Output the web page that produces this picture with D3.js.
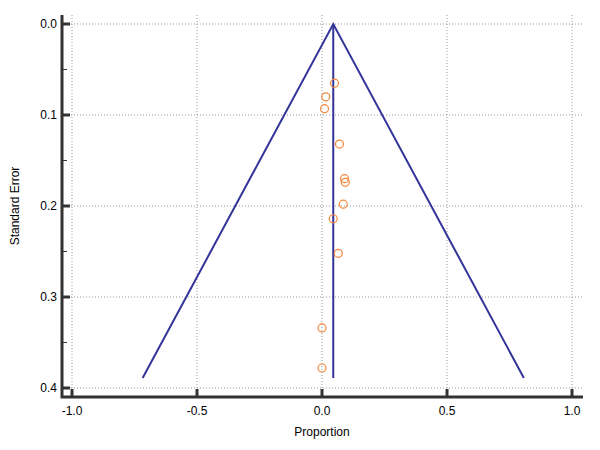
<!DOCTYPE html>
<html><head><meta charset="utf-8">
<script src="https://cdn.jsdelivr.net/npm/d3@7"></script>
<style>body{margin:0;background:#fff}text{font-family:Arial,"Liberation Sans",sans-serif}</style>
</head><body><div id="chart"></div>
<script>
const propValues = [0.05, 0.015, 0.01, 0.07, 0.09, 0.093, 0.085, 0.045, 0.065, 0.0, 0.0]
const seValues = [0.065, 0.08, 0.093, 0.132, 0.17, 0.174, 0.198, 0.214, 0.252, 0.334, 0.378]
const pooled = 0.045
const funnelSE = [0, 0.389]
const xTicks = [-1.0, -0.5, 0.0, 0.5, 1.0]
const yTicks = [0.0, 0.1, 0.2, 0.3, 0.4]

const width = 600, height = 450
const svg = d3.select("#chart").append("svg").attr("width", width).attr("height", height)
const x = d3.scaleLinear().domain([-1, 1]).range([72, 572])
const y = d3.scaleLinear().domain([0, 0.4]).range([24, 388])
const pLeft = 62, pBottom = 397, pRight = 583, pTop = 15

// grid
svg.append("g").selectAll("line").data(xTicks).enter().append("line")
    .attr("x1", d => x(d)).attr("x2", d => x(d)).attr("y1", pTop).attr("y2", pBottom)
    .attr("stroke", "#999").attr("stroke-dasharray", "1 2")
svg.append("g").selectAll("line").data(yTicks).enter().append("line")
    .attr("x1", pLeft).attr("x2", pRight).attr("y1", d => y(d)).attr("y2", d => y(d))
    .attr("stroke", "#999").attr("stroke-dasharray", "1 2")

// axes
svg.append("path").attr("d", `M${pLeft},${pTop} V${pBottom} H${pRight}`)
    .attr("fill", "none").attr("stroke", "#333").attr("stroke-width", 3)
svg.selectAll(".xt").data(xTicks).enter().append("line")
    .attr("x1", d => x(d)).attr("x2", d => x(d)).attr("y1", pBottom).attr("y2", pBottom - 8)
    .attr("stroke", "#333").attr("stroke-width", 3)
svg.selectAll(".yt").data(yTicks).enter().append("line")
    .attr("x1", pLeft).attr("x2", pLeft + 8).attr("y1", d => y(d)).attr("y2", d => y(d))
    .attr("stroke", "#333").attr("stroke-width", 3)
svg.selectAll(".ym").data([0.05, 0.15, 0.25, 0.35]).enter().append("line")
    .attr("x1", pLeft).attr("x2", pLeft + 5).attr("y1", d => y(d)).attr("y2", d => y(d))
    .attr("stroke", "#333").attr("stroke-width", 1)
svg.selectAll(".xl").data(xTicks).enter().append("text")
    .attr("x", d => x(d)).attr("y", pBottom + 18).attr("text-anchor", "middle")
    .attr("font-size", 12).text(d => d.toFixed(1))
svg.selectAll(".yl").data(yTicks).enter().append("text")
    .attr("x", pLeft - 5).attr("y", d => y(d) + 4).attr("text-anchor", "end")
    .attr("font-size", 12).text(d => d.toFixed(1))
svg.append("text").attr("x", x(0)).attr("y", 436).attr("text-anchor", "middle")
    .attr("font-size", 12).text("Proportion")
svg.append("text").attr("transform", `translate(19,${(pTop + pBottom) / 2}) rotate(-90)`)
    .attr("text-anchor", "middle").attr("font-size", 12).text("Standard Error")

// funnel
const se = funnelSE[1]
const line = d3.line().x(d => x(d[0])).y(d => y(d[1]))
svg.append("path").datum([[pooled - 1.96 * se, se], [pooled, 0], [pooled + 1.96 * se, se]])
    .attr("d", line).attr("fill", "none").attr("stroke", "#333399").attr("stroke-width", 2)
svg.append("path").datum([[pooled, 0], [pooled, se]])
    .attr("d", line).attr("fill", "none").attr("stroke", "#333399").attr("stroke-width", 2)

// points
svg.selectAll("circle").data(propValues).enter().append("circle")
    .attr("cx", d => x(d)).attr("cy", (d, i) => y(seValues[i])).attr("r", 4)
    .attr("fill", "none").attr("stroke", "#f5873c").attr("stroke-width", 1.2)
</script></body></html>
